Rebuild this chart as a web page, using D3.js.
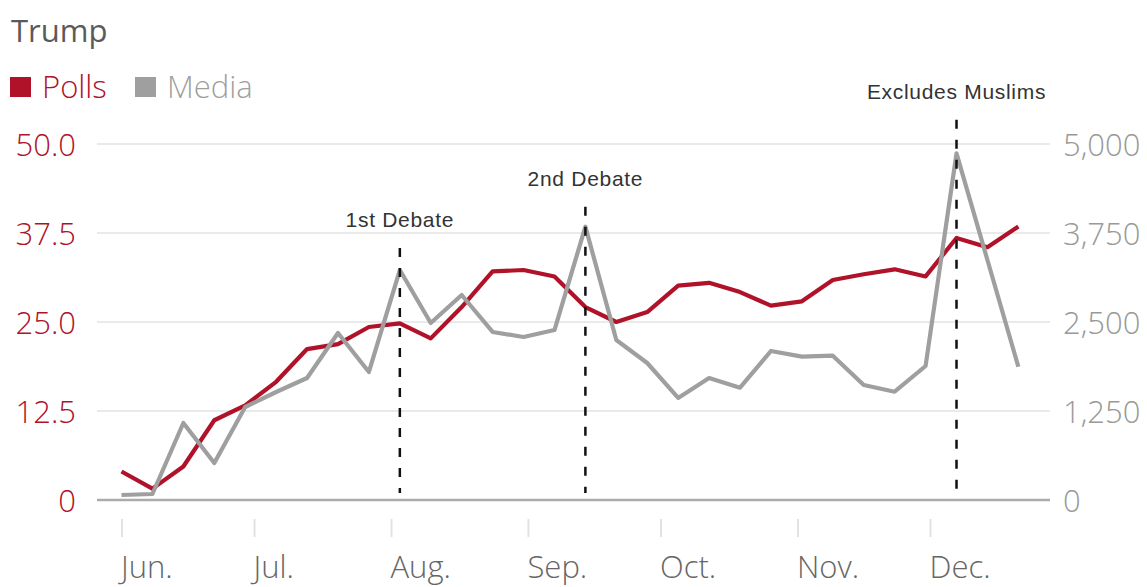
<!DOCTYPE html>
<html>
<head>
<meta charset="utf-8">
<script src="https://cdn.jsdelivr.net/npm/d3@7"></script>
<style>
  html, body { margin: 0; padding: 0; background: #fff; }
  svg { display: block; }
</style>
</head>
<body>
<svg id="chart" width="1147" height="587"></svg>
<script>
// ---- data ----
const weeks = ["2015-06-01","2015-06-08","2015-06-15","2015-06-22","2015-06-29",
  "2015-07-06","2015-07-13","2015-07-20","2015-07-27","2015-08-03",
  "2015-08-10","2015-08-17","2015-08-24","2015-08-31","2015-09-07",
  "2015-09-14","2015-09-21","2015-09-28","2015-10-05","2015-10-12",
  "2015-10-19","2015-10-26","2015-11-02","2015-11-09","2015-11-16",
  "2015-11-23","2015-11-30","2015-12-07","2015-12-14","2015-12-21"];
const polls = [4.0,1.6,4.7,11.2,13.3,16.6,21.2,21.9,24.3,24.8,
  22.7,27.1,32.1,32.3,31.4,27.1,25.0,26.4,30.1,30.5,
  29.2,27.3,27.9,30.9,31.7,32.4,31.4,36.8,35.5,38.4];
const media = [70,84,1081,520,1306,1517,1713,2345,1798,3230,
  2486,2879,2360,2289,2387,3839,2247,1924,1433,1713,
  1577,2093,2013,2027,1615,1521,1882,4869,3371,1872];
const monthTicks = ["2015-06-01","2015-07-01","2015-08-01","2015-09-01","2015-10-01","2015-11-01","2015-12-01"];
const pollTicks = [0, 12.5, 25, 37.5, 50];
const mediaTicks = [0, 1250, 2500, 3750, 5000];
const eventDates = ["2015-08-03","2015-09-14","2015-12-07"];
const eventLabels = ["1st Debate","2nd Debate","Excludes Muslims"];
const eventLevels = [35.4, 41.2, 53.4]; // top of dashed marker, in Polls units
const seriesNames = ["Polls","Media"];

// ---- style ----
const RED = "#b0122a", GRAY = "#9f9f9f";
const parse = d3.utcParse("%Y-%m-%d");
const svg = d3.select("#chart");

const x = d3.scaleUtc().domain([parse("2015-06-01"), parse("2015-12-01")]).range([121.5, 930]);
const yL = d3.scaleLinear().domain([0, 50]).range([500, 144]);
const yR = d3.scaleLinear().domain([0, 5000]).range([500, 144]);
const gridX0 = 97, gridX1 = 1050;

// title
svg.append("text").attr("x", 11).attr("y", 42)
  .attr("font-family", "'Open Sans', sans-serif").attr("font-size", 31)
  .attr("fill", "#5a5a5a").text("Trump");

// legend
const legColors = [RED, GRAY];
const legX = [10, 135];
seriesNames.forEach((n, i) => {
  svg.append("rect").attr("x", legX[i]).attr("y", 77).attr("width", 21).attr("height", 20).attr("fill", legColors[i]);
  svg.append("text").attr("x", legX[i] + 32).attr("y", 98)
    .attr("font-family", "'Open Sans', sans-serif").attr("font-weight", 300).attr("font-size", 31)
    .attr("fill", legColors[i]).text(n);
});

// gridlines
svg.append("g").selectAll("line").data(pollTicks.filter(d => d > 0)).join("line")
  .attr("x1", gridX0).attr("x2", gridX1)
  .attr("y1", d => yL(d)).attr("y2", d => yL(d))
  .attr("stroke", "#e3e3e3").attr("stroke-width", 1.5);

// baseline
svg.append("line").attr("x1", gridX0).attr("x2", gridX1)
  .attr("y1", yL(0)).attr("y2", yL(0)).attr("stroke", "#ababab").attr("stroke-width", 2.5);

// left axis
const fmtL = d => d === 0 ? "0" : d3.format(".1f")(d);
const gL = svg.append("g").attr("transform", `translate(${gridX0},0)`)
  .call(d3.axisLeft(yL).tickValues(pollTicks).tickFormat(fmtL).tickSize(0).tickPadding(21));
gL.select(".domain").remove();
gL.selectAll("text").attr("font-family", "'Open Sans', sans-serif").attr("font-weight", 300)
  .attr("font-size", 31).attr("fill", RED).attr("dy", "0.36em");

// right axis
const gR = svg.append("g").attr("transform", `translate(${gridX1},0)`)
  .call(d3.axisRight(yR).tickValues(mediaTicks).tickFormat(d3.format(",")).tickSize(0).tickPadding(13));
gR.select(".domain").remove();
gR.selectAll("text").attr("font-family", "'Open Sans', sans-serif").attr("font-weight", 300)
  .attr("font-size", 31).attr("fill", "#999").attr("dy", "0.36em");

// x axis
const gX = svg.append("g").attr("transform", "translate(0,519)")
  .call(d3.axisBottom(x).tickValues(monthTicks.map(parse)).tickFormat(d3.utcFormat("%b.")).tickSize(18).tickPadding(0));
gX.select(".domain").remove();
gX.selectAll(".tick line").attr("stroke", "#e2e2e2").attr("stroke-width", 2);
gX.selectAll("text").attr("font-family", "'Open Sans', sans-serif").attr("font-weight", 300)
  .attr("font-size", 31).attr("fill", "#666").attr("text-anchor", "start")
  .attr("x", -1).attr("y", 59).attr("dy", 0);

// lines
const pts = weeks.map(parse);
const lineL = d3.line().x((d, i) => x(pts[i])).y(d => yL(d));
const lineR = d3.line().x((d, i) => x(pts[i])).y(d => yR(d));
svg.append("path").datum(polls).attr("d", lineL).attr("fill", "none")
  .attr("stroke", RED).attr("stroke-width", 4.2).attr("stroke-linejoin", "round");
svg.append("path").datum(media).attr("d", lineR).attr("fill", "none")
  .attr("stroke", GRAY).attr("stroke-width", 4.2).attr("stroke-linejoin", "round");

// events
eventDates.forEach((d, i) => {
  const ex = x(parse(d));
  svg.append("line").attr("x1", ex).attr("x2", ex)
    .attr("y1", yL(eventLevels[i])).attr("y2", yL(0) - 7)
    .attr("stroke", "#111").attr("stroke-width", 2.5).attr("stroke-dasharray", "9,11");
  svg.append("text").attr("x", ex).attr("y", yL(eventLevels[i]) - 21)
    .attr("text-anchor", "middle")
    .attr("font-family", "'Liberation Sans', Arial, sans-serif").attr("font-size", 21)
    .attr("letter-spacing", 0.7).attr("fill", "#333").text(eventLabels[i]);
});
</script>
</body>
</html>
